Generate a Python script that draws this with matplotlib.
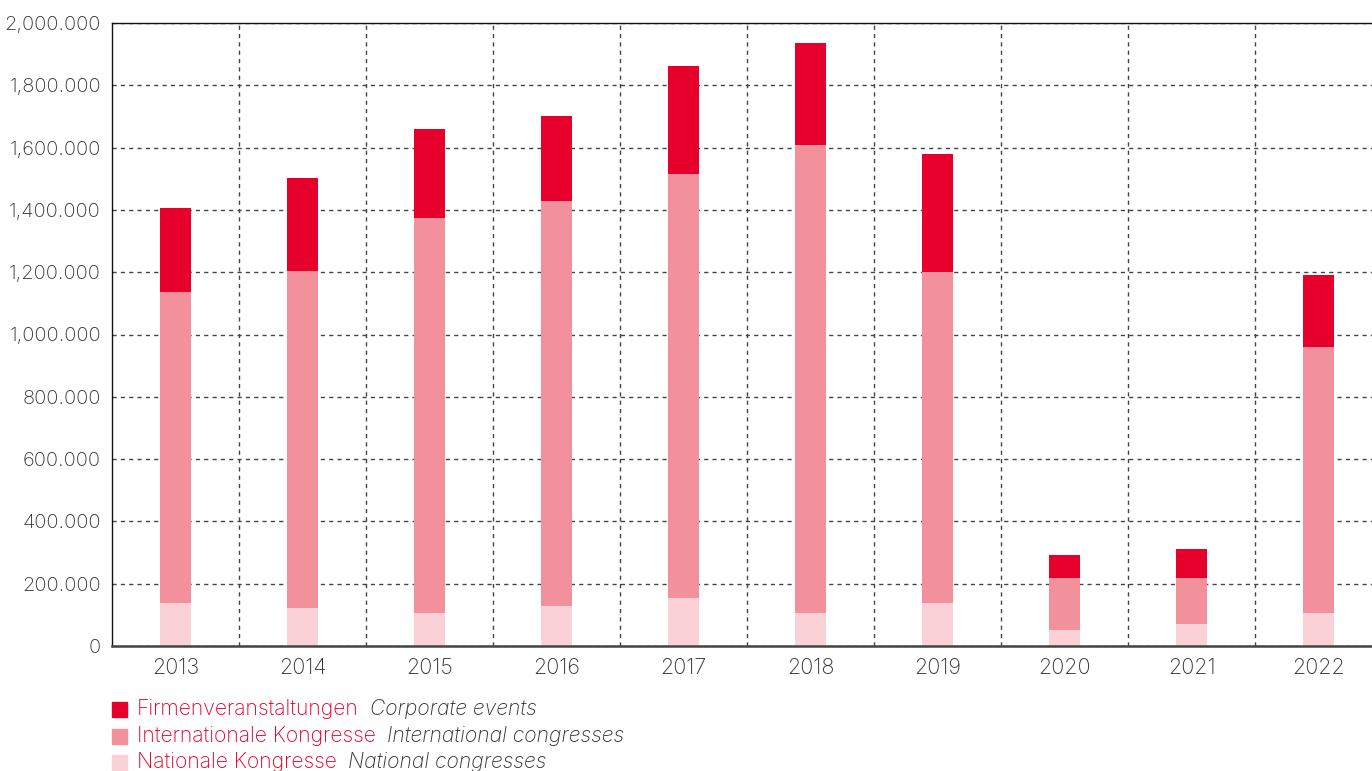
import numpy as np
import matplotlib.pyplot as plt

years = ['2013', '2014', '2015', '2016', '2017', '2018', '2019', '2020', '2021', '2022']
national = [138000, 122000, 106000, 128000, 154000, 106000, 138000, 51000, 71000, 106000]
international = [998000, 1082000, 1268000, 1301000, 1361000, 1502000, 1063000, 167000, 147000, 854000]
corporate = [270000, 298000, 286000, 272000, 347000, 328000, 378000, 74000, 93000, 231000]

ytick_vals = [0, 200000, 400000, 600000, 800000, 1000000, 1200000, 1400000, 1600000, 1800000, 2000000]
ytick_labels = ['0', '200.000', '400.000', '600.000', '800.000', '1,000.000',
                '1,200.000', '1,400.000', '1,600.000', '1,800.000', '2,000.000']

c_corp = '#E8002C'
c_int = '#F2919B'
c_nat = '#F9D1D7'
red_text = '#E8002C'
dark = '#333333'

plt.rcParams['font.family'] = ['Inter', 'DejaVu Sans']

fig = plt.figure(figsize=(13.72, 7.71), dpi=100)
ax = fig.add_axes([112 / 1372, 125 / 771, 1270 / 1372, 623 / 771])

x = np.arange(len(years))
w = 0.245
nat = np.array(national)
intl = np.array(international)
corp = np.array(corporate)
ax.bar(x, nat, w, color=c_nat, zorder=2)
ax.bar(x, intl, w, bottom=nat, color=c_int, zorder=2)
ax.bar(x, corp, w, bottom=nat + intl, color=c_corp, zorder=2)

ax.set_xlim(-0.5, len(years) - 0.5)
ax.set_ylim(0, 2000000)
ax.set_xticks(x)
ax.set_xticklabels(years, fontsize=15.5, color=dark, fontweight='light')
ax.set_xticks(x[:-1] + 0.5, minor=True)
ax.set_yticks(ytick_vals)
ax.set_yticklabels(ytick_labels, fontsize=14.5, color=dark, fontweight='light')
ax.tick_params(axis='both', which='both', length=0)
ax.tick_params(axis='x', pad=9)
ax.tick_params(axis='y', pad=8)

ax.grid(axis='y', which='major', linestyle=(0, (3, 3)), color='#444444', linewidth=1, zorder=1)
ax.grid(axis='x', which='minor', linestyle=(0, (3, 3)), color='#444444', linewidth=1, zorder=1)
ax.set_axisbelow(True)

for side in ['left', 'top', 'right']:
    ax.spines[side].set_color('#111111')
    ax.spines[side].set_linewidth(1)
ax.spines['bottom'].set_color('#444444')
ax.spines['bottom'].set_linewidth(1.8)

legend_items = [
    (c_corp, 'Firmenveranstaltungen', 'Corporate events'),
    (c_int, 'Internationale Kongresse', 'International congresses'),
    (c_nat, 'Nationale Kongresse', 'National congresses'),
]
for i, (col, de, en) in enumerate(legend_items):
    yc = 1 - (709 + i * 26.5) / 771
    fig.patches.append(plt.Rectangle((112 / 1372, yc - 8 / 771), 15 / 1372, 15 / 771,
                                     transform=fig.transFigure, color=col))
    t = fig.text(137 / 1372, yc, de, fontsize=15.2, color=red_text, va='center', fontweight='light')
    ax.annotate(en, xy=(1, 0.5), xycoords=t, xytext=(8, 0), textcoords='offset points',
                va='center', ha='left', fontsize=15.2, color=dark, style='italic',
                fontweight='light', annotation_clip=False)

fig.savefig('out.png', dpi=100)
